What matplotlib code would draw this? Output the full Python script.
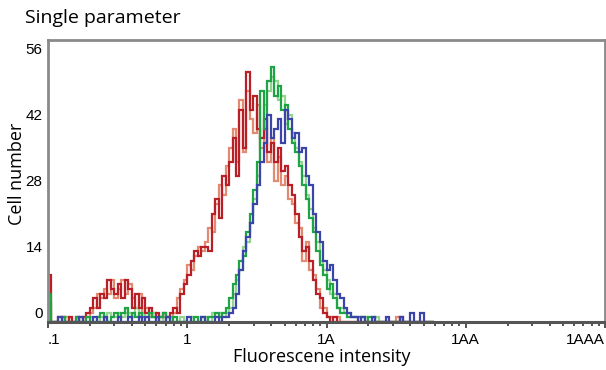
# Однопараметрична гістограма флуоресценції (проточна цитометрія)

import numpy as np
import matplotlib.pyplot as plt
from matplotlib.transforms import ScaledTranslation

# 40 каналів на декаду, починаючи з 0.1
BINS_PER_DECADE = 40
X_START = 0.1

red_dark = [
    10, 0, 0, 1, 1, 0, 1, 0, 1, 0,
    1, 2, 3, 5, 3, 6, 5, 9, 7, 6,
    8, 5, 9, 7, 3, 6, 3, 5, 2, 3,
    1, 2, 1, 2, 1, 2, 3, 2, 6, 8,
    10, 13, 15, 14, 16, 16, 15, 23, 26, 22,
    31, 29, 34, 39, 31, 45, 37, 53, 45, 48,
    41, 39, 43, 36, 38, 34, 37, 32, 33, 29,
    27, 23, 18, 15, 16, 13, 9, 6, 5, 2,
    1, 0, 1, 0, 0, 0, 0, 0, 0, 0,
    0, 0, 0, 0, 0, 0, 0, 0, 0, 0,
    0, 1, 0, 0, 0, 0, 0, 0, 0, 0, 0,
]
red_light = [
    4, 0, 0, 0, 1, 1, 0, 0, 0, 1,
    0, 1, 2, 3, 6, 5, 7, 6, 9, 5,
    7, 9, 6, 8, 5, 3, 6, 2, 3, 2,
    2, 1, 1, 0, 1, 1, 2, 5, 7, 9,
    12, 11, 14, 16, 15, 17, 20, 19, 25, 29,
    27, 33, 37, 41, 34, 47, 36, 49, 43, 40,
    46, 37, 41, 34, 39, 30, 35, 29, 31, 26,
    25, 21, 20, 13, 17, 11, 10, 7, 3, 3,
    1, 1, 0, 1, 0, 0, 0, 0, 0, 0,
    0, 0, 0, 0, 0, 0, 0, 0, 0, 0,
    1, 0, 0, 0, 0, 0, 0, 0, 0, 0, 0,
]
green_dark = [
    6, 0, 0, 0, 1, 0, 0, 0, 1, 0,
    0, 1, 0, 0, 1, 2, 1, 0, 1, 2,
    1, 2, 3, 1, 2, 1, 2, 1, 1, 2,
    1, 0, 1, 2, 1, 0, 1, 0, 0, 0,
    0, 0, 1, 0, 1, 0, 1, 1, 2, 1,
    2, 3, 5, 8, 10, 13, 14, 19, 23, 28,
    34, 49, 41, 51, 54, 48, 50, 45, 46, 41,
    38, 36, 33, 29, 26, 22, 19, 15, 12, 10,
    7, 8, 5, 3, 2, 2, 1, 1, 1, 1,
    1, 0, 1, 1, 0, 0, 0, 0, 0, 0,
    0, 0, 0, 0, 0, 0, 0, 0, 0, 0, 0,
]
green_light = [
    3, 0, 0, 0, 0, 1, 0, 0, 0, 0,
    0, 0, 1, 0, 0, 1, 0, 2, 1, 1,
    2, 1, 2, 2, 1, 3, 1, 2, 0, 1,
    2, 1, 0, 1, 0, 1, 0, 0, 1, 0,
    0, 1, 0, 0, 0, 1, 0, 2, 1, 2,
    1, 2, 3, 6, 9, 11, 16, 17, 21, 26,
    31, 39, 46, 49, 52, 51, 47, 48, 42, 44,
    40, 37, 34, 31, 27, 24, 20, 17, 13, 11,
    9, 6, 6, 3, 3, 2, 2, 1, 1, 0,
    1, 1, 0, 0, 1, 0, 0, 0, 0, 0,
    0, 0, 0, 0, 0, 0, 0, 0, 0, 0, 0,
]
blue = [
    0, 0, 0, 1, 0, 0, 0, 0, 0, 1,
    0, 0, 0, 1, 0, 0, 1, 0, 0, 0,
    1, 0, 0, 1, 0, 0, 1, 0, 1, 0,
    0, 1, 0, 0, 1, 0, 0, 0, 0, 0,
    1, 0, 0, 0, 1, 0, 0, 0, 1, 0,
    1, 1, 2, 3, 6, 11, 15, 18, 21, 25,
    29, 34, 38, 44, 39, 41, 43, 38, 45, 43,
    39, 40, 36, 37, 31, 29, 23, 19, 17, 13,
    11, 12, 9, 6, 5, 3, 2, 1, 1, 0,
    1, 0, 0, 1, 0, 0, 0, 1, 0, 0,
    0, 1, 0, 0, 2, 0, 0, 2, 0, 0, 0,
]

y_ticks = [0, 14, 28, 42, 56]
x_ticks = [0.1, 1, 10, 100, 1000]
x_tick_labels = [".1", "1", "1A", "1AA", "1AAA"]

series = [
    (red_light, "#e38a72"),
    (green_light, "#93d48e"),
    (red_dark, "#b81f26"),
    (green_dark, "#1ea345"),
    (blue, "#3b44a8"),
]


def edges_for(values):
    n = len(values)
    return X_START * 10 ** (np.arange(n + 1) / BINS_PER_DECADE)


fig = plt.figure(figsize=(6.06, 3.70), dpi=100)
ax = fig.add_axes([48 / 606, 48 / 370, 557 / 606, 282 / 370])

for values, color in series:
    ax.stairs(values, edges_for(values), color=color, lw=1.6)

ax.set_xscale("log")
ax.set_xlim(0.1, 1000)
# нульовий рівень ховається під нижньою віссю
ax.set_ylim(0, 59.8)

ax.set_xticks(x_ticks)
ax.set_xticklabels(x_tick_labels, fontfamily="Liberation Sans", fontsize=11)
ax.tick_params(axis="x", which="major", direction="out", length=4, width=1.2,
               color="#333333", pad=4)
ax.tick_params(axis="x", which="minor", direction="out", length=3, width=1.2,
               color="#333333")
xlabels = ax.get_xticklabels()
xlabels[0].set_horizontalalignment("left")
xlabels[-1].set_horizontalalignment("right")

ax.set_yticks(y_ticks)
ax.set_yticklabels([str(v) for v in y_ticks], fontfamily="Liberation Sans", fontsize=11)
ax.tick_params(axis="y", length=0, pad=4)
# підписи осі Y трохи вище від рівня значень, як в оригіналі
offset = ScaledTranslation(0, 0.09, fig.dpi_scale_trans)
for lbl in ax.get_yticklabels():
    lbl.set_transform(lbl.get_transform() + offset)

for side in ["top", "left", "right"]:
    ax.spines[side].set_color("#8a8a8a")
    ax.spines[side].set_linewidth(2)
ax.spines["bottom"].set_color("#555555")
ax.spines["bottom"].set_linewidth(2.2)

fig.text(25 / 606, 1 - 18 / 370, "Single parameter", fontfamily="Open Sans",
         fontsize=14, va="center", ha="left")
fig.text(322 / 606, 1 - 357 / 370, "Fluorescene intensity", fontfamily="Open Sans",
         fontsize=13, va="center", ha="center")
fig.text(17 / 606, 1 - 174 / 370, "Cell number", fontfamily="Open Sans",
         fontsize=13, va="center", ha="center", rotation=90)

fig.savefig("out.png", dpi=100)
plt.close(fig)
